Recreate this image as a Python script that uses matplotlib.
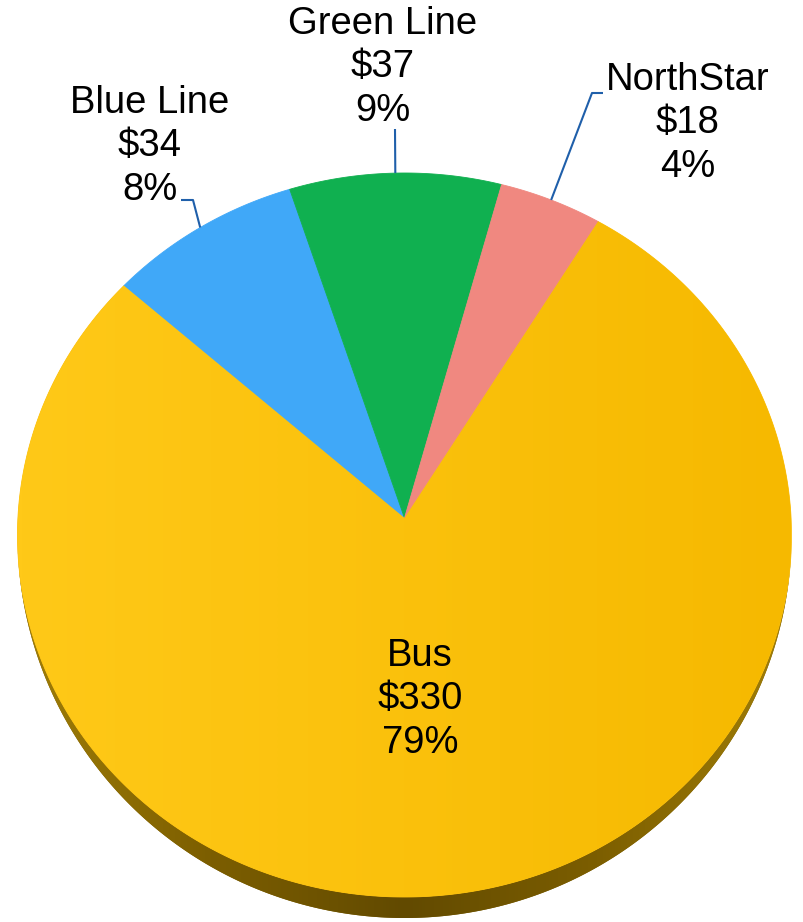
import numpy as np
import matplotlib.pyplot as plt
from matplotlib.patches import Polygon
from matplotlib.colors import LinearSegmentedColormap

# Revenue by mode ($ millions)
categories = ["Bus", "Blue Line", "Green Line", "NorthStar"]
amounts = [330, 34, 37, 18]
percent_labels = ["79%", "8%", "9%", "4%"]
slice_colors = ["#FCC010", "#40A8F8", "#10B050", "#F08880"]

W, H = 804, 922
fig = plt.figure(figsize=(W / 100, H / 100), dpi=100)
ax = fig.add_axes([0, 0, 1, 1])
ax.set_xlim(0, W)
ax.set_ylim(H, 0)
ax.axis("off")

# tilted pie geometry (ellipse outline, apex slightly above its centre)
cx, cy, rx, ry = 404.5, 535.0, 387.0, 362.0
apex = np.array([404.5, 518.0])
depth = 21.0
start_angle = 60.0


def rim(theta_deg):
    t = np.radians(theta_deg)
    return cx + rx * np.cos(t), cy - ry * np.sin(t)


# --- side of the disc -------------------------------------------------------
t = np.linspace(180, 360, 400)
bx, by = rim(t)
d = depth * -np.sin(np.radians(t))
band_xy = np.vstack([np.column_stack([bx, by]),
                     np.column_stack([bx[::-1], (by + d)[::-1]])])
band = Polygon(band_xy, closed=True, facecolor="#7A5C00", edgecolor="none")
ax.add_patch(band)
side_cmap = LinearSegmentedColormap.from_list(
    "side", ["#A07E08", "#7C5E00", "#624A00", "#7C5E00", "#A07E08"])
grad = np.linspace(0, 1, 256)[None, :]
img = ax.imshow(grad, cmap=side_cmap, extent=[cx - rx, cx + rx, cy + ry + depth + 2, cy],
                aspect="auto", zorder=1, interpolation="bilinear")
img.set_clip_path(band)

# --- top face slices --------------------------------------------------------
values = np.array(amounts, dtype=float)
frac = values / values.sum()
edges = start_angle - 360 * np.concatenate([[0], np.cumsum(frac)])
mid_angles = []
for i, color in enumerate(slice_colors):
    a0, a1 = edges[i], edges[i + 1]
    n = max(int(abs(a1 - a0) * 3), 20)
    px, py = rim(np.linspace(a0, a1, n))
    xy = np.vstack([apex, np.column_stack([px, py])])
    poly = Polygon(xy, closed=True, facecolor=color, edgecolor=color,
                   linewidth=0.6, zorder=2)
    ax.add_patch(poly)
    mid_angles.append((a0 + a1) / 2)
    if i == 0:
        face_cmap = LinearSegmentedColormap.from_list("face", ["#FFC918", "#F6B900"])
        fimg = ax.imshow(grad, cmap=face_cmap, extent=[cx - rx, cx + rx, cy + ry, cy - ry],
                         aspect="auto", zorder=2.5, interpolation="bilinear")
        fimg.set_clip_path(poly)

# --- labels (anchored at the baseline of the last line) ---------------------
label_pos = {
    "Bus": (420, 753),
    "Blue Line": (150, 200),
    "Green Line": (383, 121),
    "NorthStar": (688, 177),
}
for cat, amt, pct in zip(categories, amounts, percent_labels):
    x, y = label_pos[cat]
    ax.text(x, y, f"{cat}\n${amt}\n{pct}", ha="center", va="baseline",
            multialignment="center", fontsize=27.5, family="Liberation Sans",
            linespacing=1.27, color="black", zorder=5)

# --- leader lines -----------------------------------------------------------
leader_elbows = {
    "Blue Line": [(181, 200), (193, 200)],
    "Green Line": [(395, 129)],
    "NorthStar": [(603, 93), (592, 93)],
}
for cat, ang in zip(categories, mid_angles):
    if cat not in leader_elbows:
        continue
    ex, ey = rim(ang)
    pts = leader_elbows[cat] + [(ex, ey)]
    xs, ys = zip(*pts)
    ax.plot(xs, ys, color="#1F5FAA", linewidth=1.5, zorder=4,
            solid_capstyle="butt")

fig.savefig("out.png", dpi=100)
